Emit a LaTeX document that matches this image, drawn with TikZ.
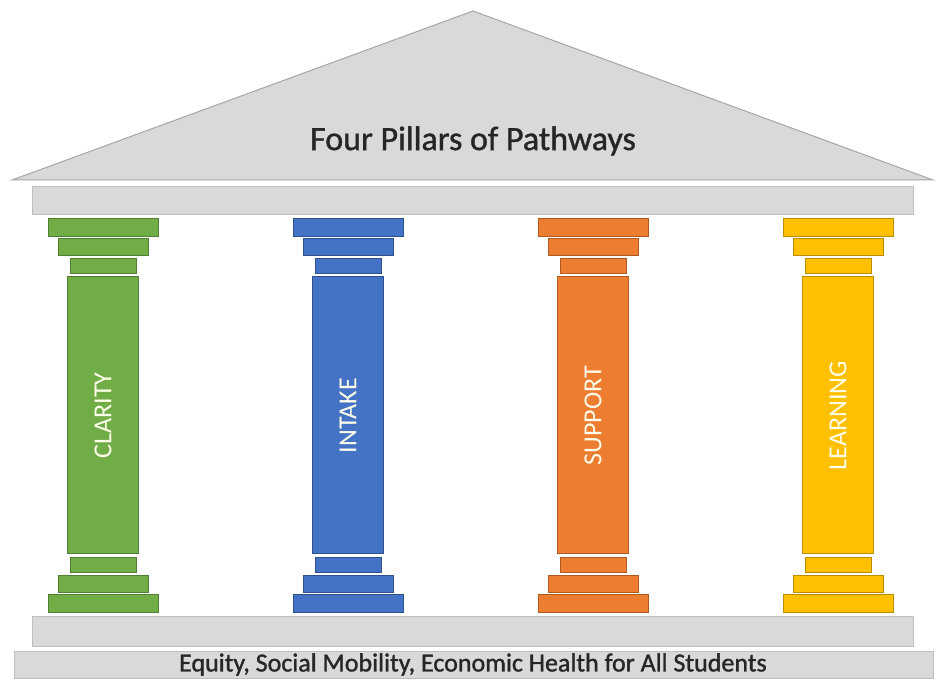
\documentclass[tikz,border=0pt]{standalone}
\usepackage{fontspec}
\setmainfont{Carlito}
\newfontfamily\heavyfont[FakeBold=1.2]{Carlito}
\definecolor{roofgray}{HTML}{D9D9D9}
\definecolor{roofline}{HTML}{A6A6A6}
\definecolor{barline}{HTML}{BFBFBF}
\definecolor{pgreen}{HTML}{70AD47}\definecolor{pgreenD}{HTML}{507E32}
\definecolor{pblue}{HTML}{4472C4}\definecolor{pblueD}{HTML}{2F528F}
\definecolor{porange}{HTML}{ED7D31}\definecolor{porangeD}{HTML}{AE5A21}
\definecolor{pyellow}{HTML}{FFC000}\definecolor{pyellowD}{HTML}{BC8C00}
\begin{document}
\begin{tikzpicture}[x=1pt,y=1pt,
  greyblock/.style={fill=roofgray,draw=barline,line width=1pt},
  label/.style={text=white!92!yellow,rotate=90,font=\fontsize{26}{30}\selectfont}]
\useasboundingbox (0,0) rectangle (939,680);
\fill[white] (0,0) rectangle (939,680);
% roof
\draw[fill=roofgray,draw=roofline,line width=1pt] (12,500) -- (473,669) -- (933,500) -- cycle;
\node[text=black!85] (title) at (473,539) {\heavyfont\fontsize{34}{38}\selectfont Four Pillars of Pathways};
% architrave
\draw[greyblock] (32,465) rectangle (913,493);
% stylobate and base
\draw[greyblock] (32,34) rectangle (913,64);
\draw[greyblock] (14,2) rectangle (933,29);
\node[text=black!85] (base) at (473,15.5) {\heavyfont\fontsize{26}{30}\selectfont Equity, Social Mobility, Economic Health for All Students};
% pillars
\foreach \cx/\col/\txt/\nm in {103/pgreen/CLARITY/clarity,348/pblue/INTAKE/intake,593/porange/SUPPORT/support,838/pyellow/LEARNING/learning}{
  \begin{scope}[every path/.style={fill=\col,draw=\col D,line width=1pt}]
    \draw (\cx-55,443) rectangle (\cx+55,461);
    \draw (\cx-45,424) rectangle (\cx+45,441);
    \draw (\cx-33,406) rectangle (\cx+33,421);
    \draw (\cx-35.5,126) rectangle (\cx+35.5,403);
    \draw (\cx-33,108) rectangle (\cx+33,123);
    \draw (\cx-45,88) rectangle (\cx+45,105);
    \draw (\cx-55,68) rectangle (\cx+55,86);
  \end{scope}
  \node[label] (\nm) at (\cx,264.5) {\txt};
}
\end{tikzpicture}
\end{document}
